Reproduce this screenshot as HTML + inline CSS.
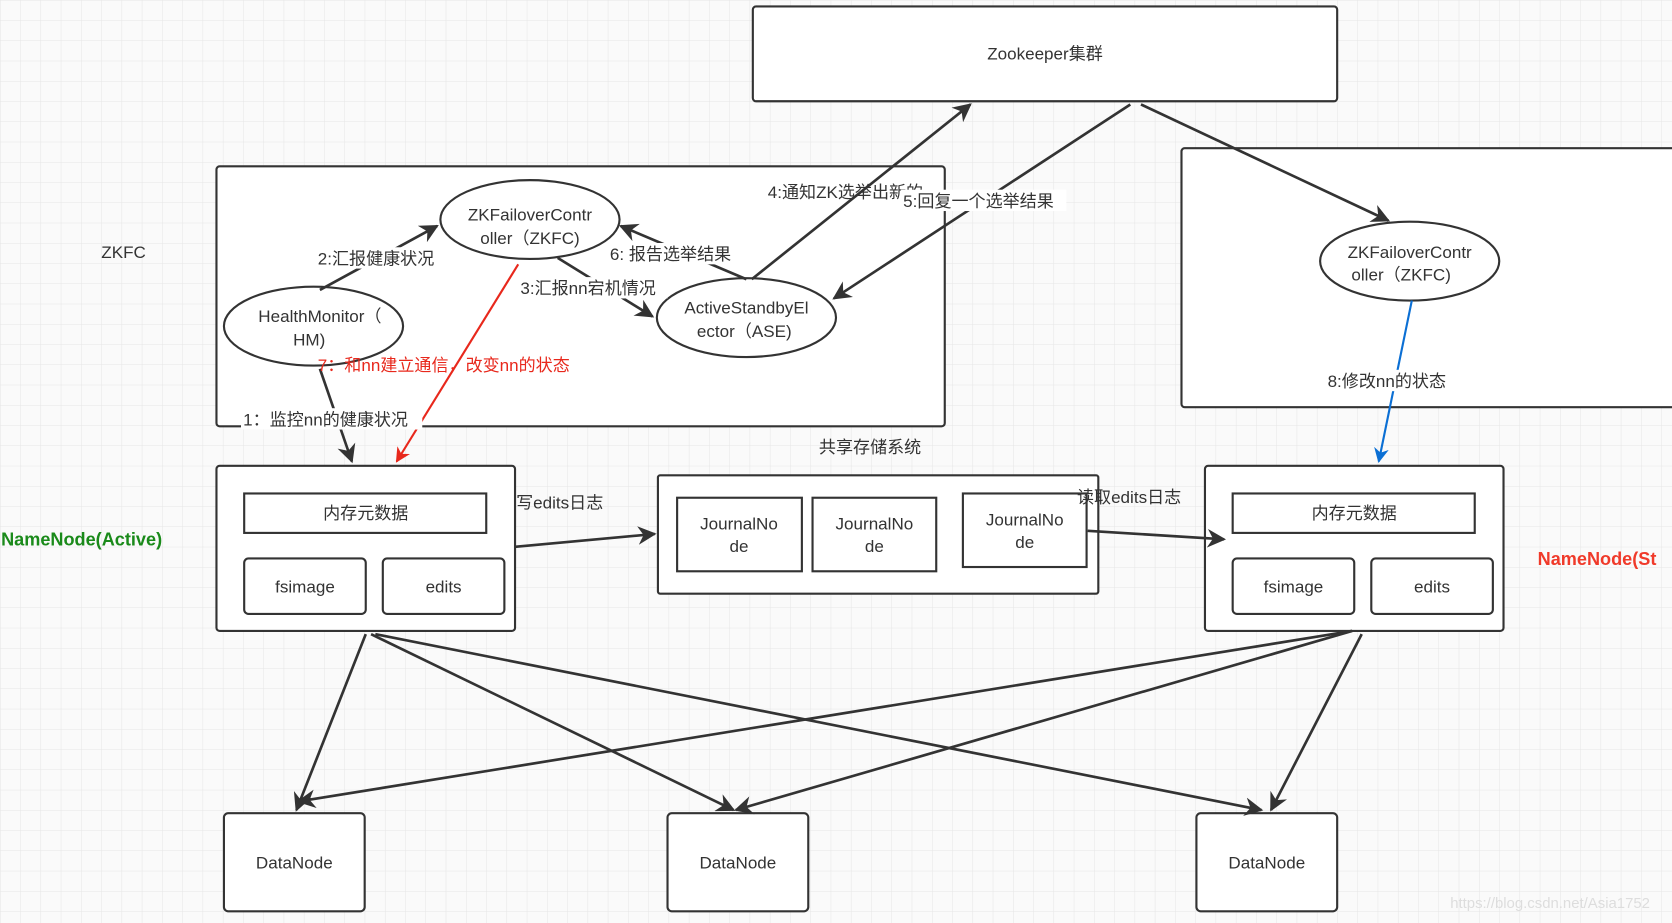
<!DOCTYPE html>
<html><head><meta charset="utf-8"><style>
html,body{margin:0;padding:0;background:#fff;}
svg{display:block;}
text{font-family:"Liberation Sans","Noto Sans CJK SC",sans-serif;font-size:16px;fill:#333;}
</style></head><body>
<svg width="1672" height="923" viewBox="0 0 1568 866" preserveAspectRatio="none" xmlns="http://www.w3.org/2000/svg">
<defs>
<pattern id="g" width="19" height="19" patternUnits="userSpaceOnUse"><path d="M19 0H0V19" fill="none" stroke="#e6e6e6" stroke-width="1"/></pattern>
<marker id="a" viewBox="0 0 10 10" refX="9" refY="5" markerWidth="7" markerHeight="7" orient="auto-start-reverse"><path d="M0,0 L10,5 L0,10 L3,5z" fill="#333"/></marker>
<marker id="r" viewBox="0 0 10 10" refX="9" refY="5" markerWidth="7" markerHeight="7" orient="auto"><path d="M0,0 L10,5 L0,10 L3,5z" fill="#e8281c"/></marker>
<marker id="b" viewBox="0 0 10 10" refX="9" refY="5" markerWidth="7" markerHeight="7" orient="auto"><path d="M0,0 L10,5 L0,10 L3,5z" fill="#0b6fd4"/></marker>
</defs>
<rect width="1568" height="866" fill="#fafafa"/>
<rect width="1568" height="866" fill="url(#g)"/>
<g fill="#fff" stroke="#333" stroke-width="2">
<rect x="706" y="6" width="548" height="89" rx="3"/>
<rect x="203" y="156" width="683" height="244" rx="3"/>
<rect x="1108" y="139" width="470" height="243" rx="3"/>
<ellipse cx="497" cy="206" rx="84" ry="37"/>
<ellipse cx="294" cy="306" rx="84" ry="37"/>
<ellipse cx="700" cy="298" rx="84" ry="37"/>
<ellipse cx="1322" cy="245" rx="84" ry="37"/>
<rect x="203" y="437" width="280" height="155" rx="3"/>
<rect x="229" y="463" width="227" height="37"/>
<rect x="229" y="524" width="114" height="52" rx="4"/>
<rect x="359" y="524" width="114" height="52" rx="4"/>
<rect x="617" y="446" width="413" height="111" rx="2"/>
<rect x="635" y="467" width="117" height="69"/>
<rect x="762" y="467" width="116" height="69"/>
<rect x="903" y="463" width="116" height="69"/>
<rect x="1130" y="437" width="280" height="155" rx="3"/>
<rect x="1156" y="463" width="227" height="37"/>
<rect x="1156" y="524" width="114" height="52" rx="4"/>
<rect x="1286" y="524" width="114" height="52" rx="4"/>
<rect x="210" y="763" width="132" height="92" rx="4"/>
<rect x="626" y="763" width="132" height="92" rx="4"/>
<rect x="1122" y="763" width="132" height="92" rx="4"/>
</g>
<g stroke="#333" stroke-width="2.5" fill="none" marker-end="url(#a)">
<line x1="300" y1="272" x2="410" y2="212"/>
<line x1="300" y1="346" x2="330" y2="433"/>
<line x1="523" y1="242" x2="612" y2="297"/>
<line x1="700" y1="262" x2="582" y2="212"/>
<line x1="705" y1="262" x2="910" y2="98"/>
<line x1="1060" y1="98" x2="782" y2="280"/>
<line x1="1070" y1="98" x2="1302" y2="207"/>
<line x1="483" y1="513" x2="614" y2="501"/>
<line x1="1020" y1="498" x2="1148" y2="506"/>
<line x1="343" y1="595" x2="278" y2="760"/>
<line x1="348" y1="595" x2="688" y2="760"/>
<line x1="352" y1="595" x2="1183" y2="760"/>
<line x1="1268" y1="592" x2="280" y2="752"/>
<line x1="1268" y1="592" x2="690" y2="760"/>
<line x1="1277" y1="595" x2="1192" y2="760"/>
</g>
<line x1="486" y1="248" x2="372" y2="433" stroke="#e8281c" stroke-width="2" marker-end="url(#r)"/>
<line x1="1324" y1="282" x2="1293" y2="433" stroke="#0b6fd4" stroke-width="2" marker-end="url(#b)"/>
<g text-anchor="middle">
<text x="980" y="56">Zookeeper集群</text>
<text x="497" y="207">ZKFailoverContr</text><text x="497" y="229">oller（ZKFC)</text>
<text x="300" y="302">HealthMonitor（</text><text x="290" y="324">HM)</text>
<text x="700" y="294">ActiveStandbyEl</text><text x="698" y="316">ector（ASE)</text>
<text x="1322" y="242">ZKFailoverContr</text><text x="1314" y="263">oller（ZKFC)</text>
<text x="343" y="487">内存元数据</text><text x="286" y="556">fsimage</text><text x="416" y="556">edits</text>
<text x="1270" y="487">内存元数据</text><text x="1213" y="556">fsimage</text><text x="1343" y="556">edits</text>
<text x="693" y="497">JournalNo</text><text x="693" y="518">de</text>
<text x="820" y="497">JournalNo</text><text x="820" y="518">de</text>
<text x="961" y="493">JournalNo</text><text x="961" y="514">de</text>
<text x="276" y="815">DataNode</text><text x="692" y="815">DataNode</text><text x="1188" y="815">DataNode</text>
</g>
<g>
<rect x="296" y="232" width="118" height="20" fill="#fff"/><text x="298" y="248">2:汇报健康状况</text>
<rect x="486" y="260" width="140" height="20" fill="#fff"/><text x="488" y="276">3:汇报nn宕机情况</text>
<rect x="570" y="228" width="140" height="20" fill="#fff"/><text x="572" y="244">6:  报告选举结果</text>
<text x="720" y="186">4:通知ZK选举出新的...</text>
<rect x="845" y="178" width="155" height="20" fill="#fff"/><text x="847" y="194">5:回复一个选举结果</text>
<rect x="226" y="383" width="170" height="20" fill="#fff"/><text x="228" y="399">1：监控nn的健康状况</text>
<text x="298" y="348" style="fill:#e8281c">7：和nn建立通信，改变nn的状态</text>
<rect x="1243" y="347" width="124" height="20" fill="#fff"/><text x="1245" y="363">8:修改nn的状态</text>
<text x="95" y="242">ZKFC</text>
<text x="768" y="425">共享存储系统</text>
<text x="484" y="477">写edits日志</text>
<text x="1010" y="472">读取edits日志</text>
<text x="1" y="512" style="fill:#1a8a1a;font-weight:bold;font-size:17px">NameNode(Active)</text>
<text x="1442" y="530" style="fill:#f03a2a;font-weight:bold;font-size:17px">NameNode(St</text>
<text x="1360" y="852" style="fill:#ddd;font-size:14px">https://blog.csdn.net/Asia1752</text>
</g>
</svg>
</body></html>
